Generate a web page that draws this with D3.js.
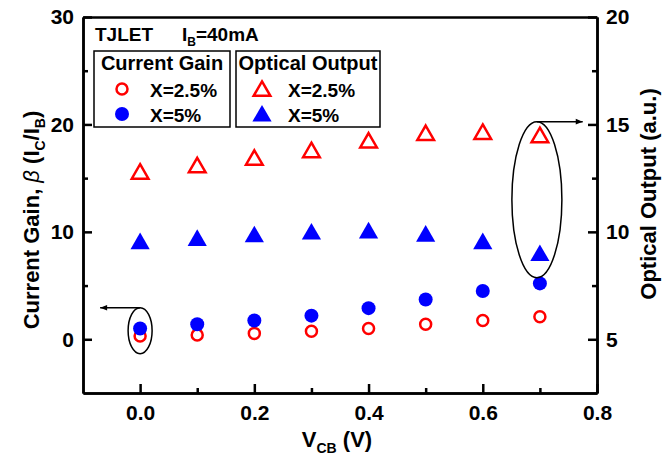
<!DOCTYPE html>
<html>
<head>
<meta charset="utf-8">
<script src="https://cdn.jsdelivr.net/npm/d3@7"></script>
<style>
  body { margin: 0; background: #fff; }
  svg { font-family: "Liberation Sans", Arial, sans-serif; font-weight: bold; }
</style>
</head>
<body>
<svg id="chart" width="669" height="461"></svg>
<script>
// data
var vcb = [0, 0.1, 0.2, 0.3, 0.4, 0.5, 0.6, 0.7];
var gain25 = [0.3, 0.4, 0.55, 0.75, 1.0, 1.4, 1.75, 2.1];
var gain5 = [1.0, 1.4, 1.75, 2.2, 2.9, 3.7, 4.5, 5.2];
var optical25 = [12.7, 13.0, 13.35, 13.7, 14.15, 14.5, 14.55, 14.4];
var optical5 = [9.45, 9.6, 9.77, 9.9, 9.95, 9.8, 9.45, 8.9];

var xMajor = [0, 0.2, 0.4, 0.6, 0.8], xMinor = [0.1, 0.3, 0.5, 0.7];
var leftMajor = [0, 10, 20, 30], leftMinor = [5, 15, 25];
var rightMajor = [5, 10, 15, 20], rightMinor = [7.5, 12.5, 17.5];

var svg = d3.select("#chart"),
    margin = {top: 17, right: 72, bottom: 68, left: 83},
    width = +svg.attr("width") - margin.left - margin.right,
    height = +svg.attr("height") - margin.top - margin.bottom,
    g = svg.append("g").attr("transform", "translate(" + margin.left + "," + margin.top + ")");

var x = d3.scaleLinear().domain([-0.1, 0.8]).range([0, width]);
var yL = d3.scaleLinear().domain([-5, 30]).range([height, 0]);
var yR = d3.scaleLinear().domain([2.5, 20]).range([height, 0]);

function styleAxis(sel) {
  sel.selectAll("path, line").attr("stroke", "#000").attr("stroke-width", 2.5);
  sel.selectAll("text").attr("font-family", "Liberation Sans, Arial, sans-serif")
     .attr("font-weight", "bold").attr("font-size", 21).attr("fill", "#000");
}

// bottom axis
g.append("g").attr("transform", "translate(0," + height + ")")
  .call(d3.axisBottom(x).tickValues(xMajor).tickSize(-9).tickSizeOuter(0).tickPadding(12).tickFormat(d3.format(".1f")))
  .call(styleAxis);
g.append("g").attr("transform", "translate(0," + height + ")")
  .call(d3.axisBottom(x).tickValues(xMinor).tickSize(-5).tickSizeOuter(0).tickFormat(""))
  .call(styleAxis);

// top frame
g.append("g")
  .call(d3.axisTop(x).tickValues([]).tickSizeOuter(0))
  .call(styleAxis);

// left axis
g.append("g")
  .call(d3.axisLeft(yL).tickValues(leftMajor).tickSize(-9).tickSizeOuter(0).tickPadding(9))
  .call(styleAxis);
g.append("g")
  .call(d3.axisLeft(yL).tickValues(leftMinor).tickSize(-5).tickSizeOuter(0).tickFormat(""))
  .call(styleAxis);

// right axis
g.append("g").attr("transform", "translate(" + width + ",0)")
  .call(d3.axisRight(yR).tickValues(rightMajor).tickSize(-9).tickSizeOuter(0).tickPadding(9))
  .call(styleAxis);
g.append("g").attr("transform", "translate(" + width + ",0)")
  .call(d3.axisRight(yR).tickValues(rightMinor).tickSize(-5).tickSizeOuter(0).tickFormat(""))
  .call(styleAxis);

// axis titles
var xt = svg.append("text")
  .attr("x", margin.left + width / 2 - 3)
  .attr("y", 447)
  .attr("text-anchor", "middle")
  .attr("font-size", 22);
xt.append("tspan").text("V");
xt.append("tspan").attr("font-size", 14).attr("dy", 6).text("CB");
xt.append("tspan").attr("dy", -6).text(" (V)");

var lt = svg.append("text")
  .attr("transform", "translate(39," + 220 + ") rotate(-90)")
  .attr("text-anchor", "middle")
  .attr("font-size", 22);
lt.append("tspan").text("Current Gain, ");
lt.append("tspan").attr("font-style", "italic").attr("font-weight", "normal").text("\u03b2");
lt.append("tspan").text(" (I");
lt.append("tspan").attr("font-size", 14).attr("dy", 6).text("C");
lt.append("tspan").attr("dy", -6).text("/I");
lt.append("tspan").attr("font-size", 14).attr("dy", 6).text("B");
lt.append("tspan").attr("dy", -6).text(")");

svg.append("text")
  .attr("transform", "translate(656," + 194 + ") rotate(-90)")
  .attr("text-anchor", "middle")
  .attr("font-size", 22)
  .text("Optical Output (a.u.)");

// data marks
var tri = d3.symbol().type(d3.symbolTriangle);

g.selectAll(".tri25").data(vcb).enter().append("path")
  .attr("transform", function(d, i) { return "translate(" + x(d) + "," + yR(optical25[i]) + ")"; })
  .attr("d", tri.size(120)())
  .attr("fill", "none").attr("stroke", "#ff0000").attr("stroke-width", 2.5);

g.selectAll(".tri5").data(vcb).enter().append("path")
  .attr("transform", function(d, i) { return "translate(" + x(d) + "," + yR(optical5[i]) + ")"; })
  .attr("d", tri.size(160)())
  .attr("fill", "#0000ff");

g.selectAll(".c25").data(vcb).enter().append("circle")
  .attr("cx", function(d) { return x(d); })
  .attr("cy", function(d, i) { return yL(gain25[i]); })
  .attr("r", 5.5)
  .attr("fill", "none").attr("stroke", "#ff0000").attr("stroke-width", 2.5);

g.selectAll(".c5").data(vcb).enter().append("circle")
  .attr("cx", function(d) { return x(d); })
  .attr("cy", function(d, i) { return yL(gain5[i]); })
  .attr("r", 7)
  .attr("fill", "#0000ff");

// ellipse + arrow annotations
svg.append("defs").append("marker")
  .attr("id", "arrow").attr("viewBox", "0 -5 10 10")
  .attr("refX", 10).attr("refY", 0)
  .attr("markerWidth", 9).attr("markerHeight", 7).attr("markerUnits", "userSpaceOnUse")
  .attr("orient", "auto")
  .append("path").attr("d", "M0,-4L10,0L0,4Z").attr("fill", "#000");

g.append("ellipse")
  .attr("cx", x(0)).attr("cy", yL(0.8)).attr("rx", 12).attr("ry", 23)
  .attr("fill", "none").attr("stroke", "#000").attr("stroke-width", 1.5);
g.append("line")
  .attr("x1", x(0)).attr("y1", yL(0.8) - 23).attr("x2", x(-0.07)).attr("y2", yL(0.8) - 23)
  .attr("stroke", "#000").attr("stroke-width", 1.5).attr("marker-end", "url(#arrow)");

g.append("ellipse")
  .attr("cx", x(0.7) - 3).attr("cy", yR(11.5)).attr("rx", 25).attr("ry", 78)
  .attr("fill", "none").attr("stroke", "#000").attr("stroke-width", 1.5);
g.append("line")
  .attr("x1", x(0.7) - 3).attr("y1", yR(11.5) - 78).attr("x2", x(0.775)).attr("y2", yR(11.5) - 78)
  .attr("stroke", "#000").attr("stroke-width", 1.5).attr("marker-end", "url(#arrow)");

// header text
svg.append("text").attr("x", 95).attr("y", 41).attr("font-size", 19).text("TJLET");
var ib = svg.append("text").attr("x", 182).attr("y", 41).attr("font-size", 19);
ib.append("tspan").text("I");
ib.append("tspan").attr("font-size", 12).attr("dy", 5).text("B");
ib.append("tspan").attr("dy", -5).text("=40mA");

// legend boxes
var legends = [
  {x: 94, w: 136, title: "Current Gain", mx: 122, tx: 150},
  {x: 236, w: 144, title: "Optical Output", mx: 262, tx: 288}
];
legends.forEach(function(L, k) {
  svg.append("rect").attr("x", L.x).attr("y", 51).attr("width", L.w).attr("height", 76)
    .attr("fill", "#fff").attr("stroke", "#000").attr("stroke-width", 1.5);
  svg.append("text").attr("x", L.x + L.w / 2).attr("y", 70).attr("text-anchor", "middle")
    .attr("font-size", 20).text(L.title);
  svg.append("text").attr("x", L.tx).attr("y", 97).attr("font-size", 19).text("X=2.5%");
  svg.append("text").attr("x", L.tx).attr("y", 122).attr("font-size", 19).text("X=5%");
  if (k == 0) {
    svg.append("circle").attr("cx", L.mx).attr("cy", 89).attr("r", 5.5)
      .attr("fill", "none").attr("stroke", "#ff0000").attr("stroke-width", 2.5);
    svg.append("circle").attr("cx", L.mx).attr("cy", 114).attr("r", 7).attr("fill", "#0000ff");
  } else {
    svg.append("path").attr("transform", "translate(" + L.mx + ",91)").attr("d", tri.size(120)())
      .attr("fill", "none").attr("stroke", "#ff0000").attr("stroke-width", 2.5);
    svg.append("path").attr("transform", "translate(" + L.mx + ",116)").attr("d", tri.size(160)())
      .attr("fill", "#0000ff");
  }
});
</script>
</body>
</html>
